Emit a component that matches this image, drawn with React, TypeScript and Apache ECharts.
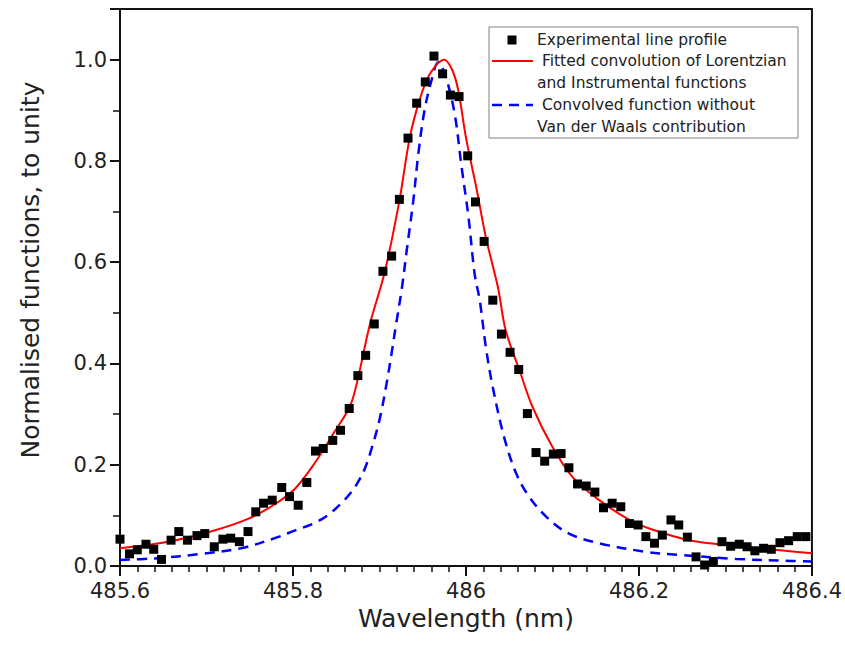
import React, { useEffect, useRef } from 'react';
import * as echarts from 'echarts';

// Experimental line profile (squares)
const expX = [
  485.600, 485.611, 485.620, 485.630, 485.639, 485.648, 485.659, 485.668, 485.678, 485.689,
  485.698, 485.709, 485.719, 485.728, 485.738, 485.748, 485.757, 485.766, 485.776, 485.787,
  485.796, 485.806, 485.816, 485.826, 485.835, 485.846, 485.855, 485.865, 485.875, 485.884,
  485.894, 485.904, 485.914, 485.923, 485.933, 485.943, 485.953, 485.963, 485.973, 485.982,
  485.992, 486.002, 486.011, 486.021, 486.031, 486.041, 486.051, 486.061, 486.071, 486.081,
  486.091, 486.101, 486.110, 486.119, 486.129, 486.139, 486.149, 486.159, 486.169, 486.179,
  486.189, 486.199, 486.208, 486.218, 486.227, 486.237, 486.246, 486.256, 486.266, 486.276,
  486.286, 486.296, 486.306, 486.316, 486.325, 486.334, 486.344, 486.353, 486.363, 486.373,
  486.383, 486.393,
];
const expY = [
  0.053, 0.024, 0.032, 0.043, 0.033, 0.013, 0.051, 0.068, 0.051, 0.060,
  0.064, 0.038, 0.053, 0.055, 0.048, 0.068, 0.107, 0.124, 0.130, 0.155,
  0.137, 0.120, 0.165, 0.227, 0.232, 0.248, 0.268, 0.311, 0.376, 0.416,
  0.478, 0.582, 0.612, 0.724, 0.845, 0.914, 0.956, 1.007, 0.972, 0.930,
  0.927, 0.810, 0.719, 0.641, 0.525, 0.458, 0.422, 0.388, 0.301, 0.224,
  0.207, 0.221, 0.222, 0.194, 0.162, 0.158, 0.146, 0.115, 0.124, 0.117,
  0.084, 0.081, 0.058, 0.045, 0.061, 0.091, 0.081, 0.057, 0.018, 0.002,
  0.009, 0.048, 0.039, 0.043, 0.038, 0.030, 0.035, 0.033, 0.046, 0.050,
  0.058, 0.058,
];

// Fitted convolution of Lorentzian and Instrumental functions (red)
const fitX = [
  485.600, 485.656, 485.705, 485.748, 485.779, 485.802, 485.825, 485.848, 485.866, 485.875,
  485.889, 485.906, 485.923, 485.935, 485.946, 485.958, 485.975, 485.984, 485.991, 486.000,
  486.012, 486.023, 486.037, 486.046, 486.062, 486.077, 486.100, 486.123, 486.154, 486.189,
  486.212, 486.258, 486.316, 486.400,
];
const fitY = [
  0.035, 0.048, 0.068, 0.093, 0.122, 0.152, 0.203, 0.265, 0.316, 0.370,
  0.478, 0.580, 0.721, 0.846, 0.918, 0.971, 1.000, 0.980, 0.940, 0.846,
  0.747, 0.649, 0.550, 0.465, 0.386, 0.314, 0.235, 0.176, 0.130, 0.091,
  0.074, 0.051, 0.039, 0.025,
];

// Convolved function without Van der Waals contribution (blue dashed)
const convX = [
  485.600, 485.640, 485.694, 485.740, 485.779, 485.802, 485.825, 485.840, 485.856, 485.867,
  485.875, 485.883, 485.892, 485.901, 485.909, 485.914, 485.919, 485.926, 485.932, 485.939,
  485.945, 485.952, 485.960, 485.968, 485.977, 485.987, 485.995, 486.003, 486.010, 486.016,
  486.023, 486.031, 486.044, 486.058, 486.073, 486.093, 486.119, 486.154, 486.208, 486.246,
  486.312, 486.377, 486.400,
];
const convY = [
  0.012, 0.015, 0.024, 0.035, 0.055, 0.070, 0.085, 0.100, 0.124, 0.145,
  0.165, 0.192, 0.238, 0.296, 0.368, 0.420, 0.475, 0.550, 0.630, 0.720,
  0.815, 0.899, 0.958, 0.995, 0.964, 0.892, 0.787, 0.688, 0.577, 0.524,
  0.432, 0.353, 0.255, 0.183, 0.137, 0.097, 0.064, 0.045, 0.028, 0.022,
  0.014, 0.010, 0.009,
];

const legendLabels = [
  'Experimental line profile',
  ' Fitted convolution of Lorentzian',
  'and Instrumental functions',
  ' Convolved function without',
  'Van der Waals contribution',
];
const xTitle = 'Wavelength (nm)';
const yTitle = 'Normalised functions, to unity';

const FONT = '"DejaVu Sans", "Liberation Sans", Arial, sans-serif';
const INK = '#111111';
const TXT = '#222222';

export default function App() {
  const ref = useRef<HTMLDivElement>(null);
  useEffect(() => {
    const chart = echarts.init(ref.current as HTMLDivElement, null, { renderer: 'svg' });
    const zip = (xs: number[], ys: number[]) => xs.map((x, i) => [x, ys[i]]);
    const lt = (text: string, x: number, y: number) => ({
      type: 'text',
      x,
      y,
      z: 12,
      style: { text, fill: TXT, fontSize: 15.5, fontFamily: FONT, align: 'left', verticalAlign: 'middle' },
    });
    chart.setOption({
      animation: false,
      grid: { left: 120, right: 32, top: 9, bottom: 80, show: true, borderColor: INK, borderWidth: 2, backgroundColor: 'transparent' },
      xAxis: {
        type: 'value',
        min: 485.6,
        max: 486.4,
        interval: 0.2,
        name: xTitle,
        nameLocation: 'middle',
        nameGap: 40,
        nameTextStyle: { fontFamily: FONT, fontSize: 25, color: TXT },
        axisLine: { show: true, onZero: false, lineStyle: { color: INK, width: 2 } },
        axisTick: { show: true, inside: false, length: 10, lineStyle: { color: INK, width: 2 } },
        minorTick: { show: true, splitNumber: 10, length: 6, lineStyle: { color: INK, width: 1.5 } },
        axisLabel: {
          margin: 14,
          fontSize: 21,
          fontFamily: FONT,
          color: TXT,
          formatter: (v: number) => String(Math.round(v * 10) / 10),
        },
        splitLine: { show: false },
      },
      yAxis: {
        type: 'value',
        min: 0,
        max: 1.1,
        interval: 0.2,
        axisLine: { show: true, lineStyle: { color: INK, width: 2 } },
        axisTick: { show: true, inside: false, length: 10, lineStyle: { color: INK, width: 2 } },
        minorTick: { show: true, splitNumber: 2, length: 7, lineStyle: { color: INK, width: 1.5 } },
        axisLabel: {
          margin: 13,
          fontSize: 21,
          fontFamily: FONT,
          color: TXT,
          formatter: (v: number) => (v > 1.05 ? '' : v.toFixed(1)),
        },
        splitLine: { show: false },
      },
      series: [
        {
          name: 'Fitted convolution of Lorentzian and Instrumental functions',
          type: 'line',
          data: zip(fitX, fitY),
          smooth: 0.35,
          showSymbol: false,
          lineStyle: { color: '#ff0000', width: 2 },
          itemStyle: { color: '#ff0000' },
          z: 3,
        },
        {
          name: 'Convolved function without Van der Waals contribution',
          type: 'line',
          data: zip(convX, convY),
          smooth: 0.35,
          showSymbol: false,
          lineStyle: { color: '#0000ff', width: 2.5, type: [10, 7] },
          itemStyle: { color: '#0000ff' },
          z: 2,
        },
        {
          name: 'Experimental line profile',
          type: 'scatter',
          data: zip(expX, expY),
          symbol: 'rect',
          symbolSize: 9,
          itemStyle: { color: '#000000', opacity: 1 },
          z: 5,
        },
      ],
      graphic: [
        {
          type: 'text',
          x: 30,
          y: 270,
          rotation: Math.PI / 2,
          style: { text: yTitle, fill: TXT, fontSize: 25, fontFamily: FONT, align: 'center', verticalAlign: 'middle' },
        },
        {
          type: 'rect',
          z: 10,
          shape: { x: 489, y: 27, width: 309, height: 111 },
          style: { fill: '#ffffff', stroke: '#808080', lineWidth: 1 },
        },
        { type: 'rect', z: 12, shape: { x: 507.5, y: 35.5, width: 9, height: 9 }, style: { fill: '#000000' } },
        lt(legendLabels[0], 537, 40),
        { type: 'line', z: 12, shape: { x1: 492, y1: 61, x2: 533, y2: 61 }, style: { stroke: '#ff0000', lineWidth: 2 } },
        lt(legendLabels[1], 537, 61),
        lt(legendLabels[2], 537, 83),
        { type: 'line', z: 12, shape: { x1: 492, y1: 105, x2: 533, y2: 105 }, style: { stroke: '#0000ff', lineWidth: 2.5, lineDash: [10, 7] } },
        lt(legendLabels[3], 537, 105),
        lt(legendLabels[4], 537, 127),
      ],
    });
    return () => chart.dispose();
  }, []);
  return (
    <div
      ref={ref}
      style={{ position: 'absolute', left: 0, top: 0, width: 845, height: 646, background: '#ffffff' }}
    />
  );
}
